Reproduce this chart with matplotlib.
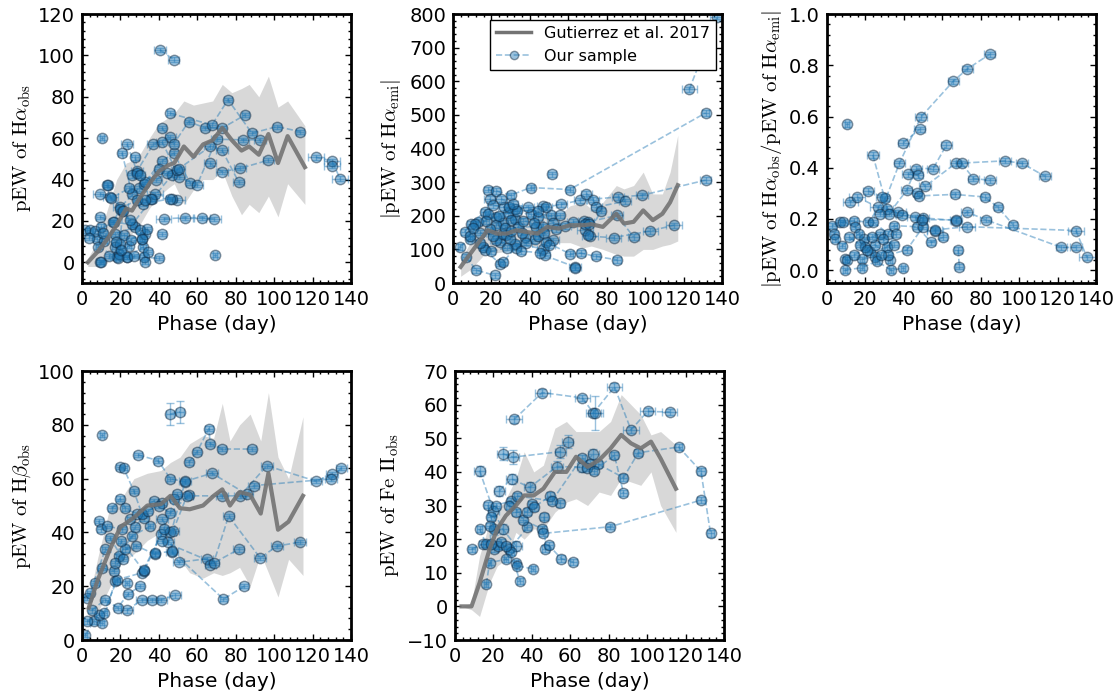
import numpy as np
import matplotlib
matplotlib.use("Agg")
import matplotlib.pyplot as plt
from matplotlib.ticker import MultipleLocator, AutoMinorLocator
from matplotlib.lines import Line2D

plt.rcParams['mathtext.fontset'] = 'cm'
plt.rcParams['font.family'] = 'DejaVu Sans'
plt.rcParams['xtick.direction'] = 'in'
plt.rcParams['ytick.direction'] = 'in'
plt.rcParams['xtick.top'] = True
plt.rcParams['ytick.right'] = True
plt.rcParams['axes.linewidth'] = 2.0

# Gutierrez et al. 2017 templates: phase, median, lower, upper
g_ha_phase = [3, 8, 13, 18, 23, 26, 30, 35, 40, 45, 48, 53, 58, 63, 68, 73, 78, 83, 87, 92, 97, 102, 107, 116]
g_ha_med = [0, 5, 11, 18, 26, 25, 31, 38, 44, 47, 48, 56, 51, 57, 59, 65, 59, 54, 56, 52, 62, 48, 61, 46]
g_ha_lo = [-2, -2, 0, 5, 12, 14, 18, 26, 32, 36, 38, 28, 35, 40, 40, 44, 32, 23, 28, 24, 32, 22, 38, 28]
g_ha_hi = [2, 10, 25, 40, 48, 49, 52, 60, 67, 70, 72, 78, 76, 77, 78, 86, 82, 84, 86, 80, 90, 75, 78, 66]

g_em_phase = [4, 9, 18, 23, 28, 33, 38, 44, 49, 55, 61, 68, 72, 78, 85, 89, 94, 99, 104, 109, 113, 117]
g_em_med = [48, 87, 157, 147, 147, 157, 152, 147, 167, 162, 172, 172, 175, 167, 206, 177, 182, 216, 187, 206, 240, 291]
g_em_lo = [20, 40, 95, 90, 95, 105, 110, 110, 120, 120, 120, 105, 110, 100, 85, 80, 80, 100, 100, 110, 115, 125]
g_em_hi = [70, 120, 210, 190, 200, 205, 200, 190, 215, 200, 230, 240, 220, 240, 290, 280, 290, 330, 265, 265, 330, 440]

g_hb_phase = [3.5, 8, 14.7, 20, 27, 34, 41, 46, 51, 56, 63, 68.5, 73, 77, 82, 87.5, 93, 97, 102, 107.5, 115]
g_hb_med = [12, 22, 34, 42, 45.5, 50, 50.5, 53.6, 49, 48.6, 50, 53.6, 56, 50, 55, 54, 47, 62, 41, 44, 53.6]
g_hb_lo = [5, 10, 20, 28, 32, 37, 40, 38, 30, 25, 23, 25, 24, 25, 27, 20, 32, 25, 16, 30, 24]
g_hb_hi = [15, 30, 50, 52, 60, 62, 63, 66, 68, 73, 76, 75, 88, 74, 80, 84, 74, 92, 68, 60, 83]

g_fe_phase = [3.4, 8.6, 12.8, 18, 22, 26.5, 31.7, 36, 41, 46, 52, 58, 63, 69, 75, 81, 86.5, 91.6, 96.7, 102, 107, 115]
g_fe_med = [0, 0, 7, 17, 23, 27, 30, 33, 33, 35, 40, 40, 44.5, 41.5, 43.5, 47, 51, 48.5, 47, 49, 44, 35]
g_fe_lo = [0, -1, -3, 7, 12, 14, 22, 20, 23, 23, 28, 31, 32, 30, 34, 33, 38, 37, 36, 40, 30, 22]
g_fe_hi = [0, 1, 15, 25, 28, 32, 38, 46, 40, 42, 53, 55, 52, 52, 52, 55, 63, 60, 57, 51, 52, 48]

# Our sample: one entry per SN -> (phase error, value error, [(phase, value), ...])
sample_ha = [
    (2, 1, [(1.7, 15.4), (7.8, 11.3), (17.3, 13.8), (27.7, 17.0)]),
    (1.5, 1, [(4.3, 15.4), (11.3, 10.5), (21.7, 13.0), (31.2, 11.3)]),
    (2, 1, [(7.0, 15.0), (16.5, 19.4), (26.0, 18.3), (36.4, 30.5), (46.8, 42.1)]),
    (1, 1, [(8.3, 7.6), (18.2, 2.4), (24.3, 8.1), (33.0, 13.8)]),
    (2, 1, [(9.5, 0.0), (19.0, 4.0), (23.4, 2.4), (32.0, 2.4), (40.0, 2.0)]),
    (4, 1, [(9.5, 33.0), (14.7, 31.6), (20.0, 26.7), (29.5, 35.7), (38.0, 33.2), (49.4, 30.0)]),
    (1, 1, [(10.4, 60.3)]),
    (2, 1, [(13.5, 37.3), (21.0, 25.0), (25.0, 20.3), (30.3, 15.4)]),
    (2, 1, [(20.8, 53.0), (26.0, 33.0), (32.0, 38.0), (41.6, 49.0), (47.7, 52.7), (56.3, 38.4)]),
    (3, 1, [(23.4, 57.2), (28.6, 44.0), (37.0, 57.0), (46.0, 60.5)]),
    (2, 1, [(27.7, 50.7), (31.7, 28.4), (46.8, 30.8)]),
    (3, 1, [(40.7, 102.6), (47.7, 98.0)]),
    (2, 1, [(41.6, 65.0), (47.7, 57.2), (55.5, 68.0), (64.0, 65.0), (72.8, 64.8), (85.0, 71.3)]),
    (2, 1, [(46.0, 72.0), (67.6, 66.4), (76.0, 78.6), (88.4, 62.4), (101.4, 65.6), (113.5, 63.2)]),
    (3, 1, [(41.6, 58.3), (50.6, 41.3), (60.0, 37.6), (70.0, 59.5), (84.0, 59.2), (92.7, 59.2)]),
    (4, 1, [(42.5, 21.0), (53.7, 21.6), (62.4, 21.6), (68.5, 21.0)]),
    (1, 1, [(69.3, 3.7)]),
    (2, 1, [(41.6, 13.8)]),
    (3, 1, [(49.4, 44.6), (66.7, 56.0), (72.8, 54.3), (81.5, 38.9)]),
    (3, 1, [(66.7, 47.8), (72.8, 43.8), (82.3, 45.4), (97.0, 49.4)]),
    (4, 1, [(121.8, 50.7), (130.0, 49.1), (134.3, 40.5)]),
    (4, 1, [(130.0, 46.7)]),
    (2, 1, [(12.9, 37.6), (15.0, 31.0), (24.4, 35.7), (36.0, 30.8), (45.8, 30.8)]),
    (2, 1, [(9.4, 21.9), (16.3, 19.4), (19.8, 26.0), (28.5, 30.0), (32.8, 30.3)]),
    (1.5, 1, [(9.7, 17.3), (17.2, 7.3), (19.8, 8.9), (23.2, 2.4), (31.9, 7.4), (32.8, 0.0)]),
    (1, 1, [(10.0, 0.0), (18.7, 2.0), (21.3, 24.6), (31.0, 11.4)]),
    (2, 1, [(26.0, 42.0), (28.6, 43.0), (33.0, 39.0), (40.0, 45.0)]),
    (2, 1, [(3.5, 12.0), (11.0, 14.0), (17.5, 10.0), (25.5, 11.0), (34.0, 16.0)]),
    (2, 1, [(14.0, 3.0), (20.5, 6.0), (27.0, 3.0), (34.5, 5.0)]),
    (3, 1, [(30.0, 42.0), (38.5, 40.0), (44.0, 43.0), (50.5, 45.0)]),
]

sample_em = [
    (1, 8, [(3.5, 107), (8.7, 132), (13.0, 181), (22.5, 196), (32.4, 190)]),
    (2, 8, [(6.1, 152), (9.5, 177), (16.5, 211), (26.0, 180)]),
    (2, 8, [(6.9, 77), (12.1, 38), (21.7, 23)]),
    (1.5, 8, [(11.3, 177), (18.2, 205), (28.6, 208), (40.8, 206), (51.2, 201)]),
    (2, 8, [(15.6, 107), (24.3, 122), (33.0, 105), (42.7, 132)]),
    (2, 8, [(16.5, 99), (24.3, 58), (26.0, 62), (37.3, 137)]),
    (2, 8, [(18.2, 278), (22.5, 274), (30.0, 261), (40.4, 284), (60.7, 278), (131.5, 506)]),
    (3, 8, [(19.1, 251), (20.8, 231), (26.6, 226), (32.4, 221), (46.8, 228)]),
    (3, 8, [(22.5, 127), (26.0, 147), (27.8, 142), (34.0, 167), (43.4, 167), (52.0, 127)]),
    (2, 8, [(22.5, 172), (29.0, 226), (30.4, 187), (44.3, 196), (55.6, 201)]),
    (3, 8, [(32.2, 117), (46.8, 102), (47.7, 82), (63.4, 48)]),
    (3, 8, [(46.8, 167), (48.6, 226), (56.4, 234), (66.0, 246), (86.0, 256), (98.4, 261), (131.5, 306)]),
    (2, 8, [(48.6, 122), (60.7, 87), (66.5, 89), (74.6, 79), (85.4, 69)]),
    (2, 8, [(51.7, 323)]),
    (3, 8, [(62.4, 182), (68.0, 185), (70.5, 182), (85.4, 201), (94.0, 137)]),
    (3, 8, [(69.4, 266), (72.9, 248), (74.6, 226), (89.5, 243)]),
    (4, 8, [(68.8, 157), (71.4, 139), (83.6, 135), (102.8, 155), (115.0, 172)]),
    (2, 8, [(70.3, 142), (77.0, 215)]),
    (2, 8, [(68.5, 177), (71.0, 177)]),
    (2, 8, [(63.6, 46)]),
    (4, 8, [(123.0, 576), (137.6, 792)]),
    (2, 8, [(9.0, 140), (14.0, 120), (19.5, 160), (27.0, 165), (36.0, 150), (44.0, 140)]),
    (2, 8, [(10.5, 165), (17.0, 185), (24.0, 200), (33.5, 215), (44.0, 215)]),
    (3, 8, [(14.0, 150), (21.0, 140), (29.5, 130), (38.0, 120), (50.0, 112)]),
    (2, 8, [(20.0, 95), (28.0, 105), (35.5, 95), (45.5, 90)]),
    (3, 8, [(25.0, 250), (31.0, 235), (39.0, 225), (52.0, 180), (58.5, 170)]),
    (2, 8, [(30.0, 155), (36.5, 185), (42.0, 180), (47.5, 150), (53.5, 160)]),
]

sample_ratio = [
    (2, .01, [(2.6, 0.174), (6.9, 0.187), (13.9, 0.194), (21.6, 0.187), (30.2, 0.28)]),
    (2, .01, [(3.5, 0.14), (8.6, 0.187), (14.7, 0.17), (19.2, 0.12), (27.6, 0.141)]),
    (1.5, .01, [(4.3, 0.12), (7.9, 0.096), (16.5, 0.14), (22.5, 0.07), (31.0, 0.09)]),
    (1, .01, [(9.5, 0.043), (10.4, 0.04), (18.1, 0.043), (25.0, 0.05), (32.7, 0.04)]),
    (1, .01, [(9.5, 0.0), (18.1, 0.01), (26.0, 0.035), (33.5, 0.0), (39.6, 0.008)]),
    (1, .01, [(10.4, 0.57)]),
    (4, .01, [(12.1, 0.266), (15.6, 0.286), (26.6, 0.246), (37.2, 0.227), (45.8, 0.207), (56.2, 0.155)]),
    (3, .01, [(21.6, 0.309), (28.5, 0.286), (31.3, 0.24), (38.9, 0.214), (50.1, 0.204), (67.4, 0.194)]),
    (3, .01, [(23.9, 0.45), (32.2, 0.22), (41.5, 0.312), (46.3, 0.397), (55.3, 0.397), (62.2, 0.489)]),
    (2, .01, [(24.2, 0.187), (31.9, 0.143), (34.7, 0.174), (46.8, 0.17), (54.3, 0.109), (60.5, 0.128)]),
    (2, .01, [(19.8, 0.09), (24.9, 0.1), (31.9, 0.06), (41.5, 0.079), (50.1, 0.17)]),
    (3, .01, [(27.6, 0.22), (37.7, 0.417), (48.9, 0.598), (65.8, 0.738), (73.1, 0.786), (84.7, 0.843)]),
    (3, .01, [(39.8, 0.498), (48.2, 0.55)]),
    (3, .01, [(42.0, 0.375), (47.2, 0.371), (51.0, 0.327), (67.0, 0.417), (92.6, 0.427), (101.6, 0.417), (113.4, 0.367)]),
    (2, .01, [(46.8, 0.30), (47.7, 0.29), (66.5, 0.296), (82.1, 0.286), (89.0, 0.246), (96.8, 0.178)]),
    (3, .01, [(49.3, 0.197), (67.0, 0.197), (72.9, 0.227), (82.6, 0.197), (122.0, 0.089), (129.6, 0.089)]),
    (4, .01, [(56.0, 0.157), (72.9, 0.17), (129.6, 0.155), (135.3, 0.05)]),
    (2, .01, [(68.3, 0.079), (68.9, 0.013)]),
    (3, .01, [(70.2, 0.417), (76.2, 0.358), (84.8, 0.351)]),
    (2, .01, [(11.5, 0.13), (17.0, 0.10), (23.5, 0.13), (29.0, 0.12), (35.0, 0.10)]),
    (2, .01, [(14.0, 0.06), (21.0, 0.08), (28.0, 0.06), (36.0, 0.14)]),
]

sample_hb = [
    (1, 0.8, [(1.7, 1.9), (6.1, 6.9), (10.4, 6.2), (17.3, 21.8), (23.4, 21.2)]),
    (1.5, 0.8, [(2.6, 6.9), (8.7, 9.4), (11.3, 10.0), (18.2, 22.4), (31.2, 25.0)]),
    (1.5, 0.8, [(2.6, 15.6), (4.3, 17.5), (12.1, 33.7), (19.1, 31.2), (26.0, 38.6), (35.6, 42.4)]),
    (2, 0.8, [(6.9, 21.2), (10.4, 26.8), (16.5, 25.6), (22.6, 33.7), (28.3, 35.0), (38.2, 31.8)]),
    (2, 0.8, [(8.7, 44.3), (10.0, 41.1), (13.0, 42.4), (20.8, 41.1), (25.2, 44.9), (32.1, 45.2)]),
    (1, 0.8, [(10.4, 76.3)]),
    (2, 0.8, [(15.6, 48.9), (19.9, 52.6), (22.6, 48.9), (28.6, 46.8), (37.3, 51.7), (45.9, 47.1), (55.5, 53.9)]),
    (2, 0.8, [(17.3, 28.7), (20.5, 36.7), (32.2, 25.6), (41.3, 39.3)]),
    (2, 0.8, [(19.9, 64.2), (21.6, 64.0), (26.9, 55.5), (31.2, 46.8), (41.6, 51.0), (47.7, 52.5)]),
    (3, 0.8, [(23.4, 11.0), (31.2, 15.0), (36.4, 15.0), (41.3, 15.0), (48.3, 16.6)]),
    (2, 0.8, [(29.2, 68.8), (39.6, 66.7), (46.0, 59.9), (53.8, 58.9)]),
    (2, 4, [(45.9, 84.0), (51.0, 84.8)]),
    (3, 0.8, [(41.6, 45.0), (46.0, 40.1), (46.9, 32.7), (50.3, 28.9), (65.0, 30.2), (66.8, 28.0), (81.5, 33.7)]),
    (2, 0.8, [(55.5, 66.0), (59.9, 70.0), (66.0, 78.6), (66.7, 73.0), (72.8, 71.0), (88.4, 71.0)]),
    (3, 0.8, [(47.3, 40.5), (54.6, 53.6), (72.8, 53.6), (82.3, 53.6), (96.2, 64.8), (122.0, 59.0), (130.0, 61.7)]),
    (3, 0.8, [(45.0, 36.4), (53.7, 59.0), (67.6, 62.0), (85.8, 54.2), (89.3, 57.4), (129.6, 59.9), (135.0, 64.0)]),
    (3, 0.8, [(41.6, 36.8), (68.5, 28.7), (76.3, 46.1), (92.7, 30.5), (101.4, 34.9), (113.5, 36.4)]),
    (2, 0.8, [(38.0, 32.2), (46.8, 33.0), (73.6, 15.2), (84.4, 20.0)]),
    (2, 0.8, [(32.0, 26.2), (42.5, 41.1), (49.4, 54.2)]),
    (2, 0.8, [(5.0, 11.0), (12.0, 15.0), (18.5, 12.0), (24.0, 17.0), (30.0, 20.0)]),
    (2, 0.8, [(14.5, 38.0), (21.5, 30.0), (27.5, 42.0), (34.5, 48.0), (40.0, 50.0)]),
]

sample_fe = [
    (2, 0.8, [(8.6, 17.0), (14.6, 18.5), (20.5, 17.0), (28.3, 17.0), (37.7, 23.5)]),
    (3, 1.5, [(12.8, 40.4), (20.0, 28.5), (24.8, 23.0), (31.7, 18.0)]),
    (1.5, 0.8, [(12.8, 23.0), (16.3, 18.5), (22.3, 18.0), (29.1, 16.2), (33.7, 7.6)]),
    (1, 0.8, [(16.3, 6.6), (18.0, 13.0), (26.5, 14.0), (31.7, 13.0), (32.5, 12.0), (40.6, 11.2)]),
    (2, 0.8, [(17.1, 30.1), (18.8, 26.5), (20.5, 23.0), (24.0, 19.2), (26.5, 18.0)]),
    (2, 0.8, [(18.0, 24.0), (18.8, 18.5), (21.4, 30.0), (29.1, 31.4), (35.4, 25.8), (45.4, 23.0),
              (45.9, 21.7), (80.8, 23.7), (128.0, 31.6)]),
    (3, 2, [(24.8, 45.4), (30.3, 44.4), (54.8, 46.0), (58.6, 49.0)]),
    (3, 1.5, [(23.1, 34.4), (29.5, 37.9), (38.9, 35.4), (53.1, 41.6), (66.3, 41.4), (72.0, 45.4)]),
    (4, 1, [(30.8, 55.6), (45.4, 63.6), (66.3, 62.0), (72.0, 57.5), (83.0, 65.3), (91.6, 52.5),
            (100.2, 58.0), (111.8, 57.8)]),
    (2, 1, [(28.3, 30.0), (31.8, 28.0), (37.7, 28.2), (40.2, 30.4), (41.1, 29.5), (49.7, 32.9), (54.8, 30.7)]),
    (2, 1, [(32.5, 32.8), (50.5, 31.4), (65.9, 44.1), (70.2, 42.4), (74.5, 42.3), (87.7, 38.3),
            (95.4, 45.7), (116.4, 47.4), (128.0, 40.2), (133.0, 21.7)]),
    (2, 1, [(46.4, 26.7), (47.1, 17.2), (48.8, 18.2), (55.3, 14.2), (61.6, 13.2)]),
    (2, 1, [(68.5, 41.2), (72.1, 40.4), (83.0, 44.9), (87.7, 33.7)]),
    (4, 5, [(73.0, 57.5)]),
]

BLUE = '#1f77b4'


def plot_sample(ax, sample):
    for xerr, yerr, pts in sample:
        pts = np.array(pts)
        ax.errorbar(pts[:, 0], pts[:, 1], xerr=xerr, yerr=yerr, fmt='o', ls='--',
                    color=BLUE, ecolor=BLUE, mfc=BLUE, mec='#0b2239',
                    ms=7.5, lw=1.2, elinewidth=1, capsize=3, alpha=0.45, zorder=2)


def plot_template(ax, phase, med, lo, hi):
    ax.fill_between(phase, lo, hi, color='gray', alpha=0.3, lw=0, zorder=1)
    ax.plot(phase, med, color='0.45', lw=3, alpha=0.9, zorder=3)


def style_axis(ax, ylim, ymajor, ylabel):
    ax.set_xlim(0, 140)
    ax.set_ylim(*ylim)
    ax.xaxis.set_major_locator(MultipleLocator(20))
    ax.xaxis.set_minor_locator(AutoMinorLocator(5))
    ax.yaxis.set_major_locator(MultipleLocator(ymajor))
    ax.yaxis.set_minor_locator(AutoMinorLocator(5))
    ax.tick_params(which='major', length=4, width=1, labelsize=14, pad=5)
    ax.tick_params(which='minor', length=2, width=1)
    ax.set_xlabel('Phase (day)', fontsize=14.5)
    ax.set_ylabel(ylabel, fontsize=15)


fig = plt.figure(figsize=(11.19, 6.99), dpi=100)
w, h = 0.2404, 0.3848
ax1 = fig.add_axes([0.0733, 0.5951, w, h])
ax2 = fig.add_axes([0.4048, 0.5951, w, h])
ax3 = fig.add_axes([0.7390, 0.5951, w, h])
ax4 = fig.add_axes([0.0733, 0.0844, w, h])
ax5 = fig.add_axes([0.4066, 0.0844, w, h])

plot_template(ax1, g_ha_phase, g_ha_med, g_ha_lo, g_ha_hi)
plot_sample(ax1, sample_ha)
style_axis(ax1, (-10, 120), 20, r'$\mathrm{pEW\ of\ H}\alpha_\mathrm{obs}$')

plot_template(ax2, g_em_phase, g_em_med, g_em_lo, g_em_hi)
plot_sample(ax2, sample_em)
style_axis(ax2, (0, 800), 100, r'$|\mathrm{pEW\ of\ H}\alpha_\mathrm{emi}|$')
handles = [Line2D([], [], color='0.45', lw=2.5),
           Line2D([], [], color=BLUE, ls='--', marker='o', ms=6, mfc=BLUE,
                  mec='#0b2239', alpha=0.45, lw=1.2)]
leg = ax2.legend(handles, ['Gutierrez et al. 2017', 'Our sample'], loc='upper right',
                 fontsize=11.5, fancybox=False, framealpha=1, edgecolor='black',
                 borderaxespad=0.35, handlelength=2.2)
leg.get_frame().set_linewidth(1.0)
leg.set_zorder(5)

plot_sample(ax3, sample_ratio)
style_axis(ax3, (-0.05, 1.0), 0.2, r'$|\mathrm{pEW\ of\ H}\alpha_\mathrm{obs}/\mathrm{pEW\ of\ H}\alpha_\mathrm{emi}|$')

plot_template(ax4, g_hb_phase, g_hb_med, g_hb_lo, g_hb_hi)
plot_sample(ax4, sample_hb)
style_axis(ax4, (0, 100), 20, r'$\mathrm{pEW\ of\ H}\beta_\mathrm{obs}$')

plot_template(ax5, g_fe_phase, g_fe_med, g_fe_lo, g_fe_hi)
plot_sample(ax5, sample_fe)
style_axis(ax5, (-10, 70), 10, r'$\mathrm{pEW\ of\ Fe\ II_{obs}}$')

fig.savefig('out.png', dpi=100, facecolor='white')
